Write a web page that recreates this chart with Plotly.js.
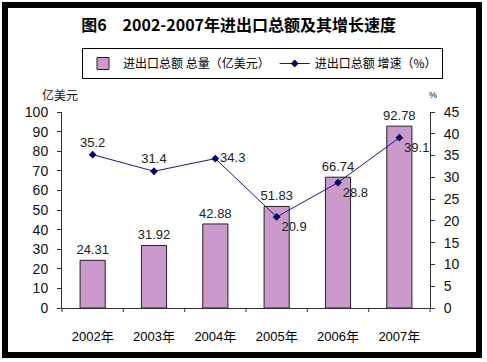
<!DOCTYPE html>
<html><head><meta charset="utf-8">
<script src="https://cdn.plot.ly/plotly-3.0.1.min.js"></script>
<style>html,body{margin:0;padding:0;background:#fff}#chart{width:487px;height:362px}</style>
</head><body><div id="chart"></div>
<script>
const years = ['2002年','2003年','2004年','2005年','2006年','2007年'];
const totals = [24.31, 31.92, 42.88, 51.83, 66.74, 92.78];
const growth = [35.2, 31.4, 34.3, 20.9, 28.8, 39.1];
const growthTextPos = ['top center','top center','middle right','bottom right','bottom right','bottom right'];
const leftTicks = [0,10,20,30,40,50,60,70,80,90,100];
const rightTicks = [0,5,10,15,20,25,30,35,40,45];

const W = 487, H = 362, L = 62, R = 57, T = 112, B = 54;
const pw = W - L - R, ph = H - T - B;
const px = p => (p - L) / pw;
const py = q => (H - B - q) / ph;
const FONT = 'Liberation Sans, Arial, Noto Sans CJK SC, sans-serif';

const data = [
  {type:'bar', x: years, y: totals, name:'进出口总额 总量（亿美元）',
   marker:{color:'#CC99CC', line:{color:'#222', width:1}}, width:0.41,
   text: totals.map(v=>v.toFixed(2)), textposition:'outside', cliponaxis:false, constraintext:'none',
   textfont:{size:13, color:'#222', family:FONT}},
  {type:'scatter', mode:'lines+markers+text', x: years, y: growth, yaxis:'y2',
   name:'进出口总额 增速（%）',
   line:{color:'#1a1a80', width:1}, marker:{symbol:'diamond', size:6, color:'#000066'},
   text: growth.map(v=>v.toFixed(1)), textposition: growthTextPos, cliponaxis:false,
   textfont:{size:13, color:'#222', family:FONT}}
];

const layout = {
  width: W, height: H, margin:{l:L, r:R, t:T, b:B},
  paper_bgcolor:'#fff', plot_bgcolor:'#fff',
  font:{family:FONT, size:13, color:'#222'},
  showlegend:true,
  title:{text:'<b>图6　2002-2007年进出口总额及其增长速度</b>', x:0.49, xanchor:'center', y:1-25/H, yanchor:'middle',
    font:{family:'Noto Sans CJK SC, sans-serif', size:16, color:'#000'}},
  legend:{orientation:'h', x:px(82), xanchor:'left', y:py(48), yanchor:'top',
    bordercolor:'#000', borderwidth:1, bgcolor:'#fff',
    font:{family:'Noto Sans CJK SC, sans-serif', size:12, color:'#000'},
    itemwidth:30, tracegroupgap:0},
  xaxis:{type:'category', showline:true, linecolor:'#333', linewidth:1, ticks:'',
    showgrid:false, tickfont:{size:13, color:'#000', family:FONT}, zeroline:false, ticklabelstandoff:16},
  yaxis:{range:[0,100], tickvals:leftTicks, showline:true, linecolor:'#333', ticks:'outside',
    ticklen:4, tickcolor:'#333', showgrid:false, zeroline:false, tickfont:{size:14, color:'#111'},
    ticklabelstandoff:6},
  yaxis2:{range:[0,45], tickvals:rightTicks, overlaying:'y', side:'right', showline:true,
    linecolor:'#333', ticks:'outside', ticklen:4, tickcolor:'#333', showgrid:false, zeroline:false,
    tickfont:{size:14, color:'#111'}, ticklabelstandoff:6},
  annotations:[
    {text:'亿美元', xref:'paper', yref:'paper', x:px(60), y:py(94), xanchor:'center', yanchor:'middle',
     showarrow:false, font:{family:'Noto Sans CJK SC, sans-serif', size:12, color:'#111'}},
    {text:'%', xref:'paper', yref:'paper', x:px(433), y:py(95), xanchor:'center', yanchor:'middle',
     showarrow:false, font:{size:9, color:'#111'}}
  ],
  shapes:[
    {type:'rect', xref:'paper', yref:'paper', x0:px(5), x1:px(479), y0:py(355), y1:py(5),
     line:{color:'#000', width:6}, fillcolor:'rgba(0,0,0,0)', layer:'above'}
  ]
};
for (let i = 0; i <= years.length; i++) {
  layout.shapes.push({type:'line', xref:'paper', yref:'paper', x0:i/years.length, x1:i/years.length,
    y0:0, y1:py(H-B+4), line:{color:'#333', width:1}});
}
Plotly.newPlot('chart', data, layout, {displayModeBar:false, staticPlot:true});
</script></body></html>
